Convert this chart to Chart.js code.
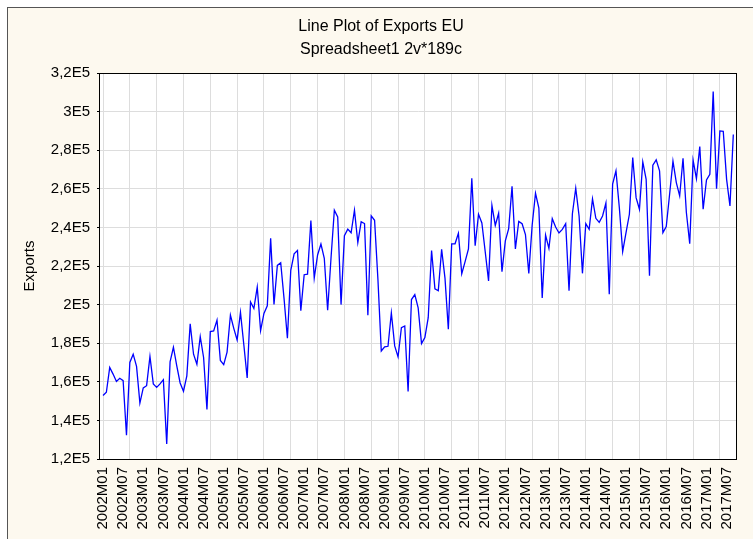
<!DOCTYPE html>
<html>
<head>
<meta charset="utf-8">
<script src="https://cdn.jsdelivr.net/npm/chart.js@4"></script>
<style>
  html, body { margin: 0; padding: 0; background: #fff; }
</style>
</head>
<body>
<canvas id="chart" width="753" height="539"></canvas>
<script>
// case labels, 2002M01 .. 2017M09 (189 cases)
const months = [];
for (let y = 2002; y <= 2017; y++) {
    for (let m = 1; m <= 12; m++) {
        if (months.length < 189) months.push(y + 'M' + String(m).padStart(2, '0'));
    }
}

// Exports EU
const exports = [
    152900, 154600, 167400, 164000, 160200, 161800, 160600, 132300, 170000, 174300, 168000, 149000,
    156800, 158000, 173100, 158900, 157100, 158900, 161100, 127800, 170300, 177900, 168300, 159400,
    155100, 163100, 190000, 174300, 169100, 183400, 172600, 145700, 186000, 186400, 192000, 171100,
    168900, 175400, 194600, 187700, 181700, 196000, 179200, 162000, 201400, 198000, 209100, 186500,
    195400, 199400, 234300, 200100, 220300, 221700, 203100, 182600, 217700, 226300, 228000, 196800,
    215500, 215800, 243500, 213700, 225700, 231400, 224000, 197100, 224000, 248900, 245400, 200000,
    235700, 239100, 237200, 248900, 232100, 242900, 242000, 194500, 246000, 243700, 213000, 176000,
    178100, 178400, 195700, 178600, 172900, 188000, 188900, 155000, 202600, 205200, 198300, 179800,
    182900, 193200, 228000, 208200, 207200, 228600, 213700, 187200, 231500, 231500, 236900, 216000,
    222300, 228800, 265500, 230500, 246800, 242300, 227400, 212300, 251400, 241000, 247300, 217100,
    233000, 239400, 261300, 228800, 243100, 241900, 236300, 216200, 241100, 257700, 250000, 203400,
    236000, 229100, 244500, 240200, 237100, 239000, 241900, 207200, 247100, 260300, 245900, 216200,
    241900, 239000, 254800, 244700, 242600, 245900, 252600, 205400, 262400, 269300, 250300, 227500,
    237300, 246800, 276200, 255400, 249400, 273900, 264900, 214900, 272200, 275000, 269300, 237300,
    240400, 257200, 274300, 263200, 256300, 275800, 247700, 231600, 274800, 265300, 281900, 249400,
    264600, 267500, 310400, 260100, 290000, 289800, 264900, 251100, 288100
];

const yTicks = [120000, 140000, 160000, 180000, 200000, 220000, 240000, 260000, 280000, 300000, 320000];
const labelEvery = 6;   // a label every 6 cases
const gridEvery = 8;    // a grid line every 8 cases
const titleLines = ['Line Plot of Exports EU', 'Spreadsheet1 2v*189c'];

const FONT = '"Liberation Sans", Arial, sans-serif';

const caseNums = months.map((m, i) => i + 1);

function fmtE5(v) {
    return String(Math.round(v / 1e4) / 10).replace('.', ',') + 'E5';
}

const backdrop = {
    id: 'backdrop',
    beforeDraw(chart) {
        const ctx = chart.ctx;
        const a = chart.chartArea;
        ctx.save();
        ctx.fillStyle = '#fff';
        ctx.fillRect(0, 0, chart.width, chart.height);
        ctx.fillStyle = '#fdf9ef';
        ctx.fillRect(7, 7, chart.width, chart.height);
        ctx.strokeStyle = '#555';
        ctx.lineWidth = 1;
        ctx.strokeRect(7.5, 7.5, chart.width + 10, chart.height + 10);
        ctx.fillStyle = '#fff';
        ctx.fillRect(a.left, a.top, a.right - a.left, a.bottom - a.top);
        ctx.restore();
    },
    afterDraw(chart) {
        const ctx = chart.ctx;
        const a = chart.chartArea;
        ctx.save();
        ctx.strokeStyle = '#000';
        ctx.lineWidth = 1;
        ctx.strokeRect(Math.round(a.left) - 0.5, Math.round(a.top) + 0.5,
            Math.round(a.right - a.left), Math.round(a.bottom - a.top));
        ctx.fillStyle = '#000';
        ctx.font = '16px ' + FONT;
        ctx.textAlign = 'center';
        ctx.textBaseline = 'middle';
        ctx.fillText(titleLines[0], 381, 27);
        ctx.fillText(titleLines[1], 381, 50);
        ctx.restore();
    }
};

new Chart(document.getElementById('chart').getContext('2d'), {
    type: 'line',
    data: {
        datasets: [{
            label: 'Exports',
            data: exports.map((v, i) => ({ x: caseNums[i], y: v })),
            xAxisID: 'x',
            yAxisID: 'y',
            borderColor: '#0000ff',
            borderWidth: 1.3,
            pointRadius: 0,
            tension: 0,
            fill: false
        }]
    },
    options: {
        responsive: false,
        animation: false,
        layout: { padding: { top: 73, right: 16, left: 0, bottom: 0 } },
        plugins: {
            legend: { display: false },
            tooltip: { enabled: false },
            title: { display: false }
        },
        scales: {
            x: {
                type: 'linear',
                position: 'bottom',
                min: 0.1,
                max: 190.1,
                afterBuildTicks: s => {
                    s.ticks = caseNums.filter(n => (n - 1) % labelEvery === 0).map(n => ({ value: n }));
                },
                afterFit: s => { s.height = 80; },
                grid: { display: false, drawTicks: false },
                border: { display: false },
                ticks: {
                    autoSkip: false,
                    minRotation: 90,
                    maxRotation: 90,
                    padding: 8,
                    color: '#000',
                    font: { family: FONT, size: 15 },
                    callback: v => months[v - 1]
                }
            },
            xg: {
                type: 'linear',
                position: 'top',
                min: 0.1,
                max: 190.1,
                afterBuildTicks: s => {
                    s.ticks = caseNums.filter(n => (n - 1) % gridEvery === 0).map(n => ({ value: n }));
                },
                afterFit: s => { s.height = 0; },
                ticks: { display: false },
                grid: { color: '#dddddd', lineWidth: 1, drawTicks: false },
                border: { display: false }
            },
            y: {
                type: 'linear',
                min: yTicks[0],
                max: yTicks[yTicks.length - 1],
                afterBuildTicks: s => { s.ticks = yTicks.map(v => ({ value: v })); },
                afterFit: s => { s.width = 100; },
                grid: { color: '#dddddd', lineWidth: 1, tickLength: 3, tickColor: '#000' },
                border: { display: false },
                ticks: {
                    padding: 7,
                    color: '#000',
                    font: { family: FONT, size: 15 },
                    callback: v => fmtE5(v)
                },
                title: {
                    display: true,
                    text: 'Exports',
                    color: '#000',
                    font: { family: FONT, size: 15 },
                    padding: { top: 21, bottom: 0 }
                }
            }
        }
    },
    plugins: [backdrop]
});
</script>
</body>
</html>
